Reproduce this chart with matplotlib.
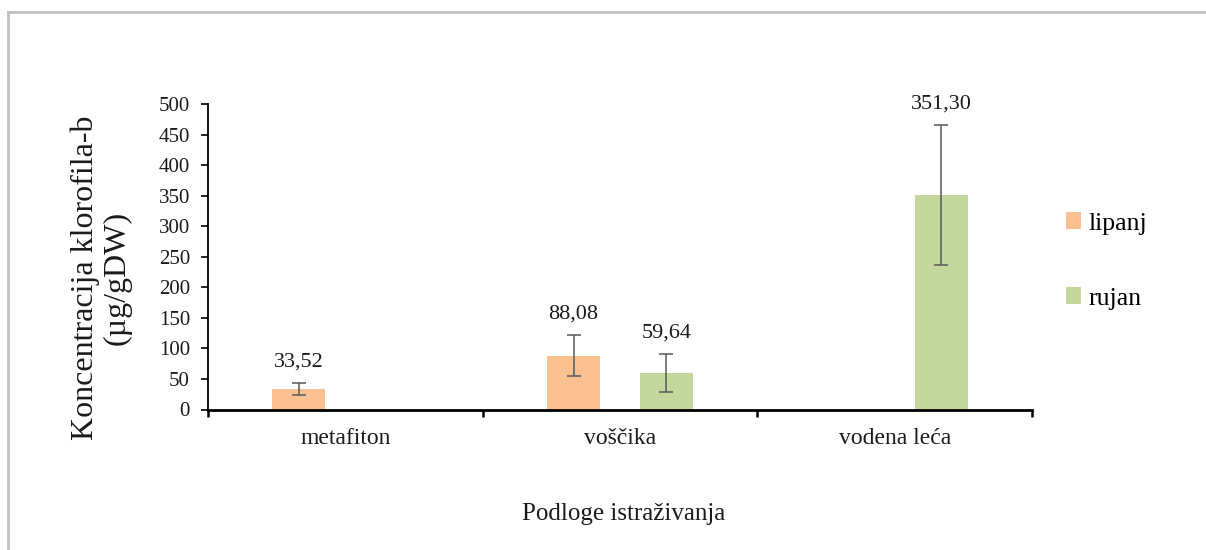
import numpy as np
import matplotlib
matplotlib.use("Agg")
import matplotlib.pyplot as plt
from matplotlib.lines import Line2D

plt.rcParams['font.family'] = ['Liberation Serif', 'DejaVu Serif']

categories = ["metafiton", "voščika", "vodena leća"]
series_names = ["lipanj", "rujan"]
lipanj = [33.52, 88.08, np.nan]
rujan = [np.nan, 59.64, 351.30]
lipanj_err = [10.3, 34.0, np.nan]
rujan_err = [np.nan, 31.0, 114.5]
data_labels_lipanj = ["33,52", "88,08", ""]
data_labels_rujan = ["", "59,64", "351,30"]
yticks = [0, 50, 100, 150, 200, 250, 300, 350, 400, 450, 500]

colors = ["#FAC090", "#C3D69B"]

W, H = 1206, 550
fig = plt.figure(figsize=(W / 100, H / 100), dpi=100)
ax = fig.add_axes([208 / W, 140.5 / H, (1032 - 208) / W, 305.5 / H])

centers = np.arange(len(categories)) + 0.5
offset = 0.169
bw = 0.193

for vals, errs, labs, col, name, sgn in [
    (lipanj, lipanj_err, data_labels_lipanj, colors[0], series_names[0], -1),
    (rujan, rujan_err, data_labels_rujan, colors[1], series_names[1], 1),
]:
    xs = centers + sgn * offset
    v = np.array(vals, dtype=float)
    e = np.array(errs, dtype=float)
    ax.bar(xs, v, width=bw, color=col, label=name, zorder=2)
    ax.errorbar(xs, v, yerr=e, fmt='none', ecolor='#595959', elinewidth=1.1,
                capsize=4.7, capthick=1.1, zorder=3)
    for x, val, err, lab in zip(xs, v, e, labs):
        if lab and not np.isnan(val):
            ax.annotate(lab, (x, val + err), xytext=(0, 8), textcoords='offset points',
                        ha='center', va='bottom', fontsize=16, color='#1a1a1a')

ax.set_xlim(0, len(categories))
ax.set_ylim(0, 500)
ax.set_yticks(yticks)
ax.set_yticklabels([str(t) for t in yticks], fontsize=15)
ax.set_xticks(np.arange(len(categories) + 1))
ax.set_xticklabels([])
ax.set_xticks(centers, minor=True)
ax.set_xticklabels(categories, minor=True, fontsize=17)
ax.tick_params(axis='x', which='major', direction='out', length=5, width=1.8, color='black')
ax.tick_params(axis='x', which='minor', length=0, pad=13, labelcolor='#1a1a1a')
ax.tick_params(axis='y', direction='out', length=5, width=1.2, pad=8, labelcolor='#1a1a1a')

for s in ['top', 'right']:
    ax.spines[s].set_visible(False)
ax.spines['left'].set_linewidth(1.3)
ax.spines['bottom'].set_linewidth(2)

fig.text(101 / W, 1 - 278 / H, "Koncentracija klorofila-b\n(µg/gDW)", rotation=90,
         ha='center', va='center', fontsize=23, linespacing=1.15, color='#1a1a1a')
fig.text(624 / W, 1 - 514 / H, "Podloge istraživanja", ha='center', va='center',
         fontsize=18, color='#1a1a1a')

handles, labels = ax.get_legend_handles_labels()
leg = fig.legend(handles, labels, loc='center left', bbox_to_anchor=(1053 / W, 1 - 261 / H),
                 frameon=False, fontsize=18.5, handlelength=0.6, handleheight=0.6,
                 handletextpad=0.3, labelspacing=2.05, borderpad=0)

# outer frame (top and left edges)
fig.add_artist(Line2D([8 / W, 1], [1 - 12 / H, 1 - 12 / H], transform=fig.transFigure,
                      color='#c0c0c0', lw=2))
fig.add_artist(Line2D([8 / W, 8 / W], [0, 1 - 12 / H], transform=fig.transFigure,
                      color='#c0c0c0', lw=2))

fig.savefig("out.png", dpi=100, facecolor='white')
